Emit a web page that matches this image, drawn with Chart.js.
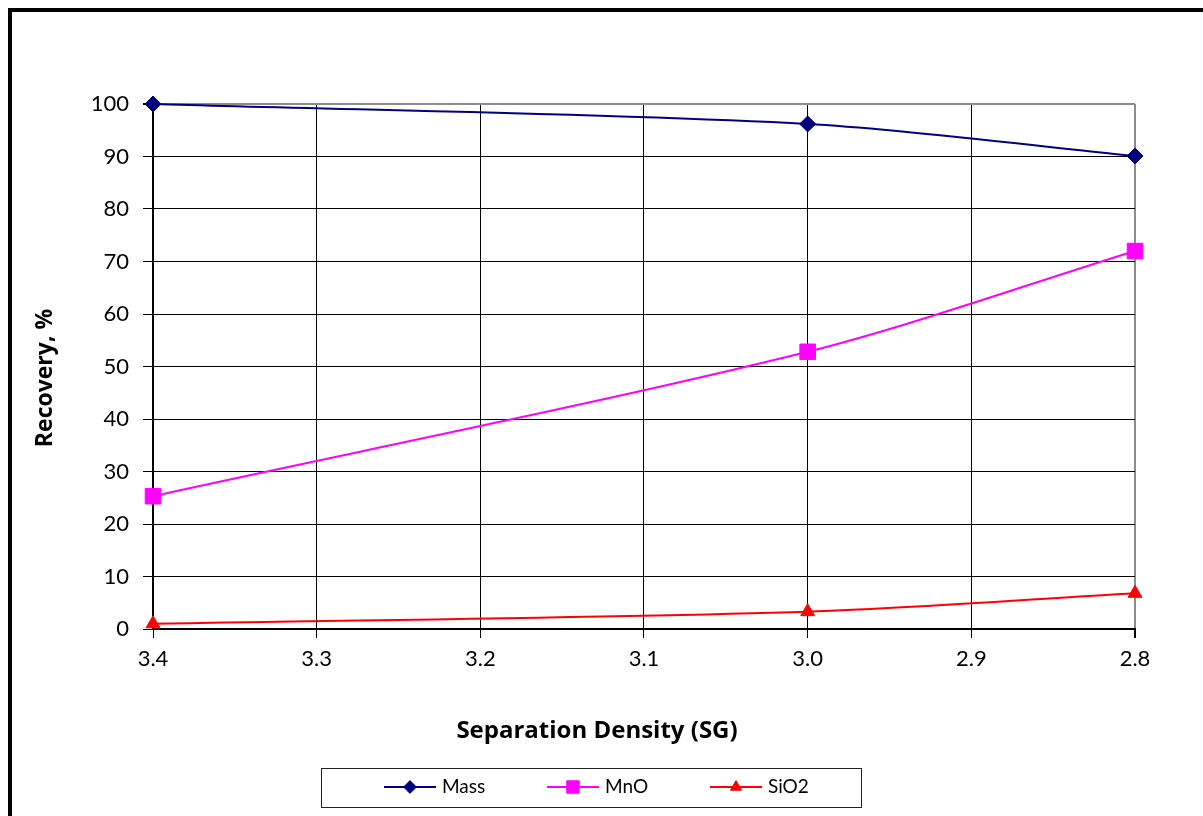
<!DOCTYPE html>
<html lang="en">
<head>
    <meta charset="UTF-8">
    <title>Recovery vs Separation Density</title>
    <script src="https://cdn.jsdelivr.net/npm/chart.js"></script>
    <style>
        body { margin: 0; background: #fff; overflow: hidden; }
        .frame { position: absolute; left: 8px; top: 8px; width: 1300px; height: 900px; border: 4px solid #000; }
        .wrap { position: absolute; left: 0; top: 0; width: 1203px; height: 816px; }
    </style>
</head>
<body>
    <div class="frame"></div>
    <div class="wrap"><canvas id="recoveryChart"></canvas></div>

    <script>
        // Separation density (SG) and recovery (%) per component
        const densities = [3.4, 3.0, 2.8];
        const massRecovery = [100, 96.2, 90.1];
        const mnoRecovery = [25.3, 52.8, 72.0];
        const sio2Recovery = [1.0, 3.3, 6.8];
        const xTicks = [3.4, 3.3, 3.2, 3.1, 3.0, 2.9, 2.8];
        const xTitle = 'Separation Density (SG)';
        const yTitle = 'Recovery, %';

        const FONT = 'Lato, "Open Sans", sans-serif';

        function pts(ys) {
            return densities.map((x, i) => ({ x: x, y: ys[i] }));
        }

        // Axis titles, centred on the whole chart rather than the plot area
        const axisTitles = {
            id: 'axisTitles',
            afterDraw(chart) {
                const ctx = chart.ctx;
                ctx.save();
                ctx.fillStyle = '#000';
                ctx.textAlign = 'center';
                ctx.textBaseline = 'middle';
                ctx.font = 'bold 24px "Open Sans", sans-serif';
                ctx.fillText(xTitle, 597, 731);
                ctx.font = 'bold 23px "Open Sans", sans-serif';
                ctx.translate(45, 378);
                ctx.rotate(-Math.PI / 2);
                ctx.fillText(yTitle, 0, 0);
                ctx.restore();
            }
        };

        // Boxed legend below the axis title, line + marker per series
        const boxLegend = {
            id: 'boxLegend',
            afterDraw(chart) {
                const ctx = chart.ctx;
                ctx.save();
                ctx.strokeStyle = '#222';
                ctx.lineWidth = 1;
                ctx.strokeRect(321.5, 768.5, 540, 39);
                const starts = [384, 547, 710];
                chart.data.datasets.forEach((ds, i) => {
                    const x0 = starts[i], y = 787;
                    ctx.strokeStyle = ds.borderColor;
                    ctx.fillStyle = ds.backgroundColor;
                    ctx.lineWidth = 2;
                    ctx.beginPath();
                    ctx.moveTo(x0, y);
                    ctx.lineTo(x0 + 52, y);
                    ctx.stroke();
                    ctx.lineWidth = 1;
                    Chart.helpers.drawPoint(ctx, {
                        pointStyle: ds.pointStyle,
                        radius: ds.pointRadius * 0.8,
                        borderWidth: 1
                    }, x0 + 26, y);
                    ctx.fillStyle = '#000';
                    ctx.font = '19px ' + FONT;
                    ctx.textAlign = 'left';
                    ctx.textBaseline = 'middle';
                    ctx.fillText(ds.label, x0 + 58, y);
                });
                ctx.restore();
            }
        };

        const ctx = document.getElementById('recoveryChart');
        Chart.defaults.font.family = FONT;
        Chart.defaults.color = '#000';

        new Chart(ctx, {
            type: 'line',
            data: {
                datasets: [
                    {
                        label: 'Mass',
                        data: pts(massRecovery),
                        borderColor: '#000080',
                        backgroundColor: '#000080',
                        pointStyle: 'rectRot',
                        pointRadius: 8
                    },
                    {
                        label: 'MnO',
                        data: pts(mnoRecovery),
                        borderColor: '#ff00ff',
                        backgroundColor: '#ff00ff',
                        pointStyle: 'rect',
                        pointRadius: 11
                    },
                    {
                        label: 'SiO2',
                        data: pts(sio2Recovery),
                        borderColor: '#ff0000',
                        backgroundColor: '#ff0000',
                        pointStyle: 'triangle',
                        pointRadius: 8
                    }
                ]
            },
            options: {
                responsive: true,
                maintainAspectRatio: false,
                animation: false,
                datasets: {
                    line: {
                        borderWidth: 2,
                        tension: 0.3,
                        clip: false,
                        pointBorderWidth: 1
                    }
                },
                layout: { padding: { left: 20, top: 104, right: 68, bottom: 67 } },
                plugins: {
                    legend: { display: false },
                    tooltip: { enabled: false }
                },
                scales: {
                    x: {
                        type: 'linear',
                        reverse: true,
                        min: 2.8,
                        max: 3.4,
                        afterBuildTicks: axis => { axis.ticks = xTicks.map(v => ({ value: v })); },
                        afterFit: axis => { axis.height = 120; },
                        ticks: {
                            font: { size: 22 },
                            padding: 8,
                            maxRotation: 0,
                            callback: v => v.toFixed(1)
                        },
                        grid: {
                            color: c => (c.tick && Math.abs(c.tick.value - 2.8) < 1e-6) ? '#8c8c8c' : '#000',
                            lineWidth: c => (c.tick && Math.abs(c.tick.value - 2.8) < 1e-6) ? 2 : 1,
                            tickLength: 9,
                            tickColor: '#000'
                        },
                        border: { color: '#000', width: 2 }
                    },
                    y: {
                        min: 0,
                        max: 100,
                        ticks: {
                            stepSize: 10,
                            font: { size: 22 },
                            padding: 14
                        },
                        afterFit: axis => { axis.width = 133; },
                        grid: {
                            color: c => (c.tick && c.tick.value === 100) ? '#8c8c8c' : '#000',
                            lineWidth: c => (c.tick && c.tick.value === 100) ? 2 : 1,
                            tickLength: 10,
                            tickColor: '#000'
                        },
                        border: { color: '#000', width: 2 }
                    }
                }
            },
            plugins: [axisTitles, boxLegend]
        });
    </script>
</body>
</html>
